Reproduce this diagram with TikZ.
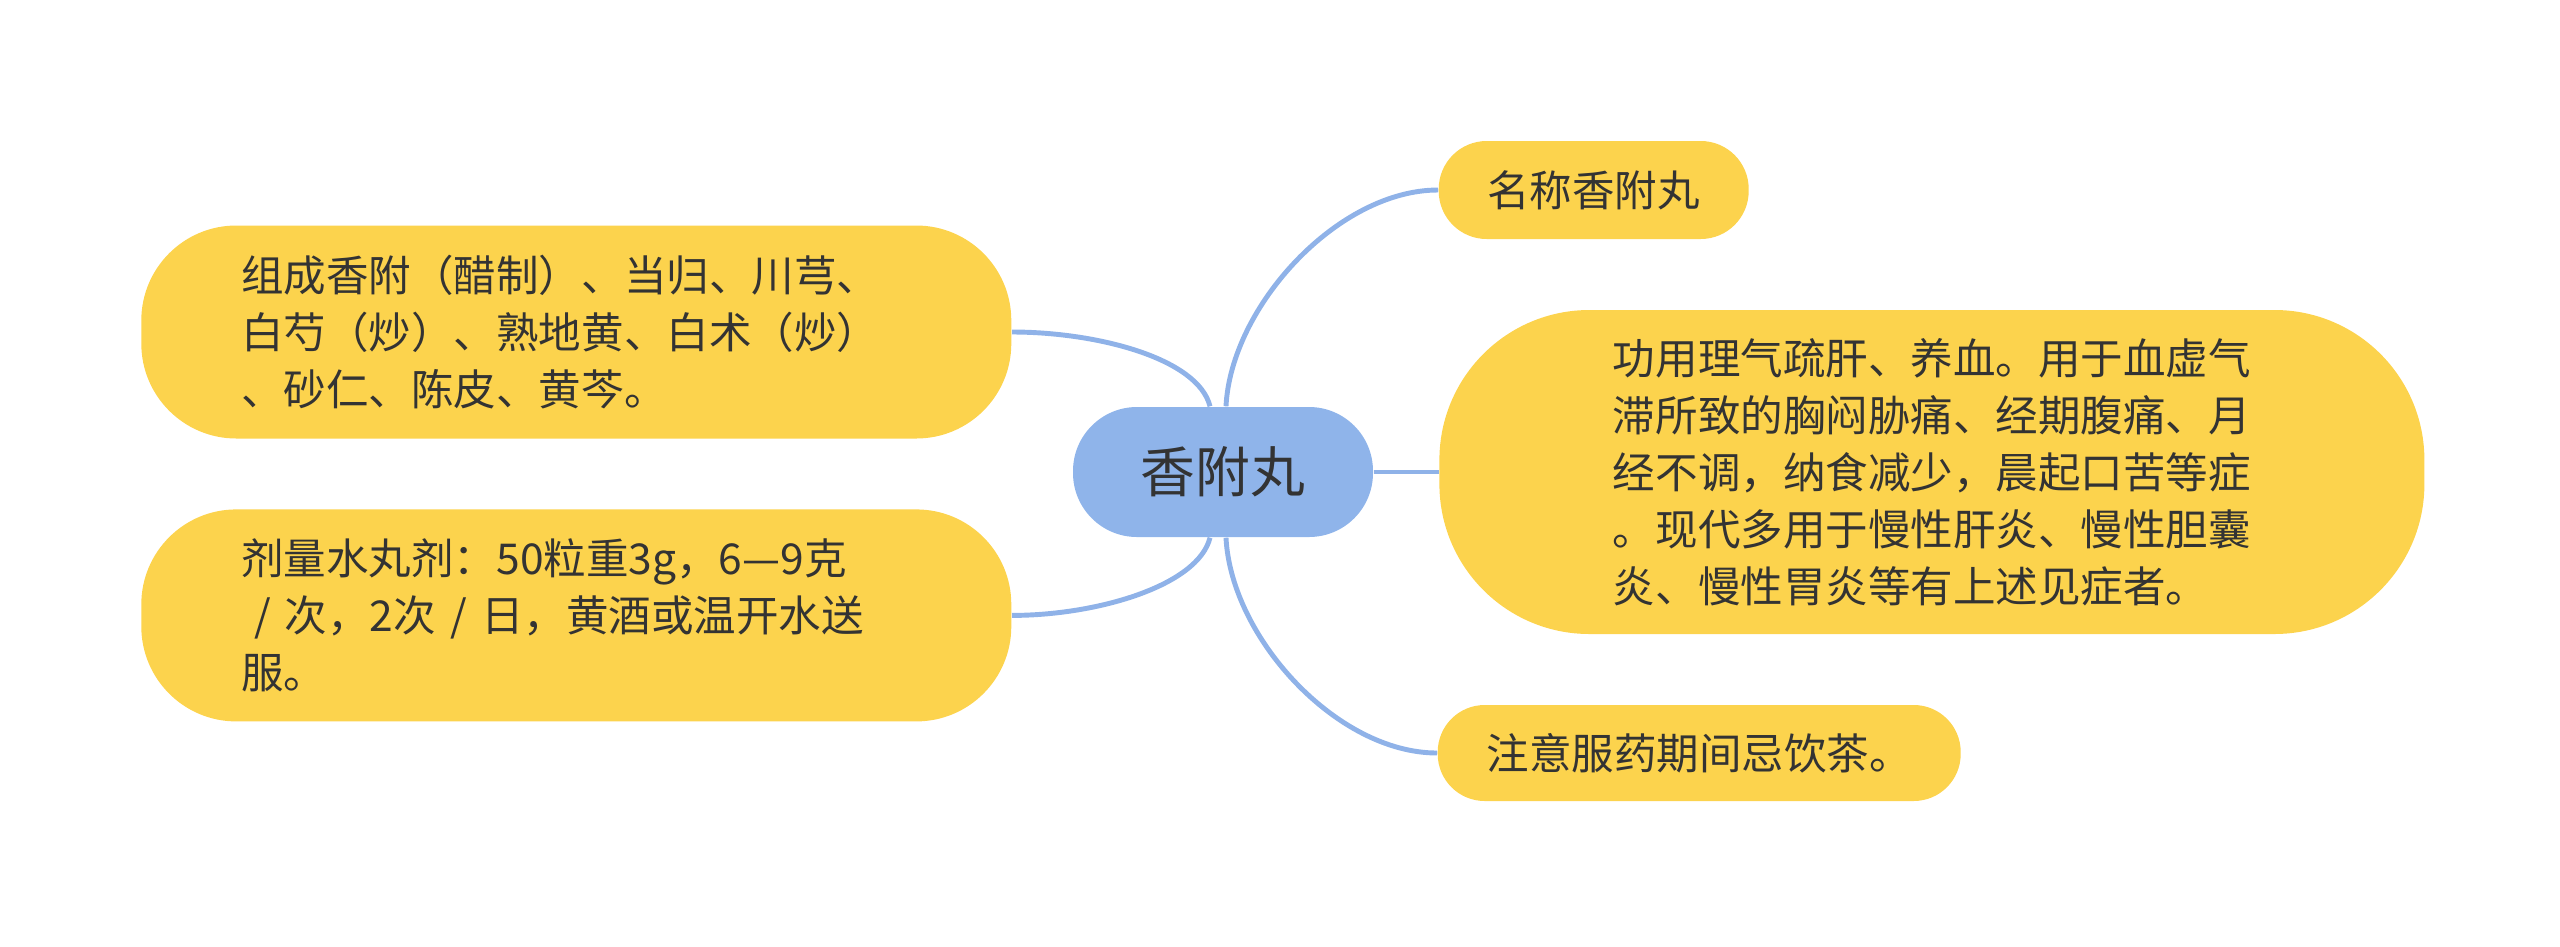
\documentclass[tikz,border=0pt]{standalone}
\usepackage{fontspec}
\setmainfont{Noto Sans CJK SC}
\usetikzlibrary{positioning, calc}
\definecolor{MapBlue}{RGB}{143, 180, 234}
\definecolor{MapLine}{RGB}{143, 178, 232}
\definecolor{MapYellow}{RGB}{252, 211, 77}
\definecolor{MapText}{RGB}{51, 51, 51}

\begin{document}
\begin{tikzpicture}[
        leaf/.style = {fill = MapYellow, text = MapText, align = left, inner sep = 0pt, font = \fontsize{12.1pt}{16.2pt}\selectfont},
        hubbox/.style = {fill = MapBlue, text = MapText, inner sep = 0pt, font = \fontsize{15.6pt}{18pt}\selectfont},
        link/.style = {line width = 1.4pt, MapLine}
    ]
        \useasboundingbox (0, 0) rectangle (25.6, -9.46);

        \node[hubbox, minimum width = 3cm, minimum height = 1.3cm, rounded corners = 0.64cm] (hub) at (12.23, -4.72) {香附丸};

        \node[leaf, minimum width = 9.85cm, minimum height = 3.24cm, rounded corners = 1.5cm, right = 0.65cm of hub] (func) {
            功用理气疏肝、养血。用于血虚气
            \\
            滞所致的胸闷胁痛、经期腹痛、月
            \\
            经不调，纳食减少，晨起口苦等症
            \\
            。现代多用于慢性肝炎、慢性胆囊
            \\
            炎、慢性胃炎等有上述见症者。
        };

        \node[leaf, minimum width = 3.1cm, minimum height = 0.98cm, rounded corners = 0.48cm, anchor = west] (name) at (14.38, -1.90) {名称香附丸};

        \node[leaf, minimum width = 5.23cm, minimum height = 0.96cm, rounded corners = 0.47cm, anchor = west] (note) at (14.37, -7.53) {注意服药期间忌饮茶。};

        \node[leaf, text width = 6.7cm, inner xsep = 1cm, minimum height = 2.13cm, rounded corners = 0.95cm, anchor = east] (comp) at (10.12, -3.32) {
            组成香附（醋制）、当归、川芎、
            \\
            白芍（炒）、熟地黄、白术（炒）
            \\
            、砂仁、陈皮、黄芩。
        };

        \node[leaf, text width = 6.7cm, inner xsep = 1cm, minimum height = 2.12cm, rounded corners = 0.95cm, below = 0.695cm of comp] (dose) {
            剂量水丸剂：50粒重3g，6—9克
            \\
            \hspace{0.3em}/ 次，2次 / 日，黄酒或温开水送
            \\
            服。
        };

        \draw[link] ([xshift = -1.3mm]hub.north) .. controls +(-0.12, 0.48) and +(0.85, 0) .. (comp.east);
        \draw[link] ([xshift = -1.3mm]hub.south) .. controls +(-0.12, -0.48) and +(0.85, 0) .. (dose.east);
        \draw[link] ([xshift = 0.3mm]hub.north) .. controls +(0.05, 1.0) and +(-1.0, 0) .. (name.west);
        \draw[link] ([xshift = 0.3mm]hub.south) .. controls +(0.05, -1.0) and +(-1.0, 0) .. (note.west);
        \draw[link] (hub.east) -- (func.west);
    \end{tikzpicture}
\end{document}
